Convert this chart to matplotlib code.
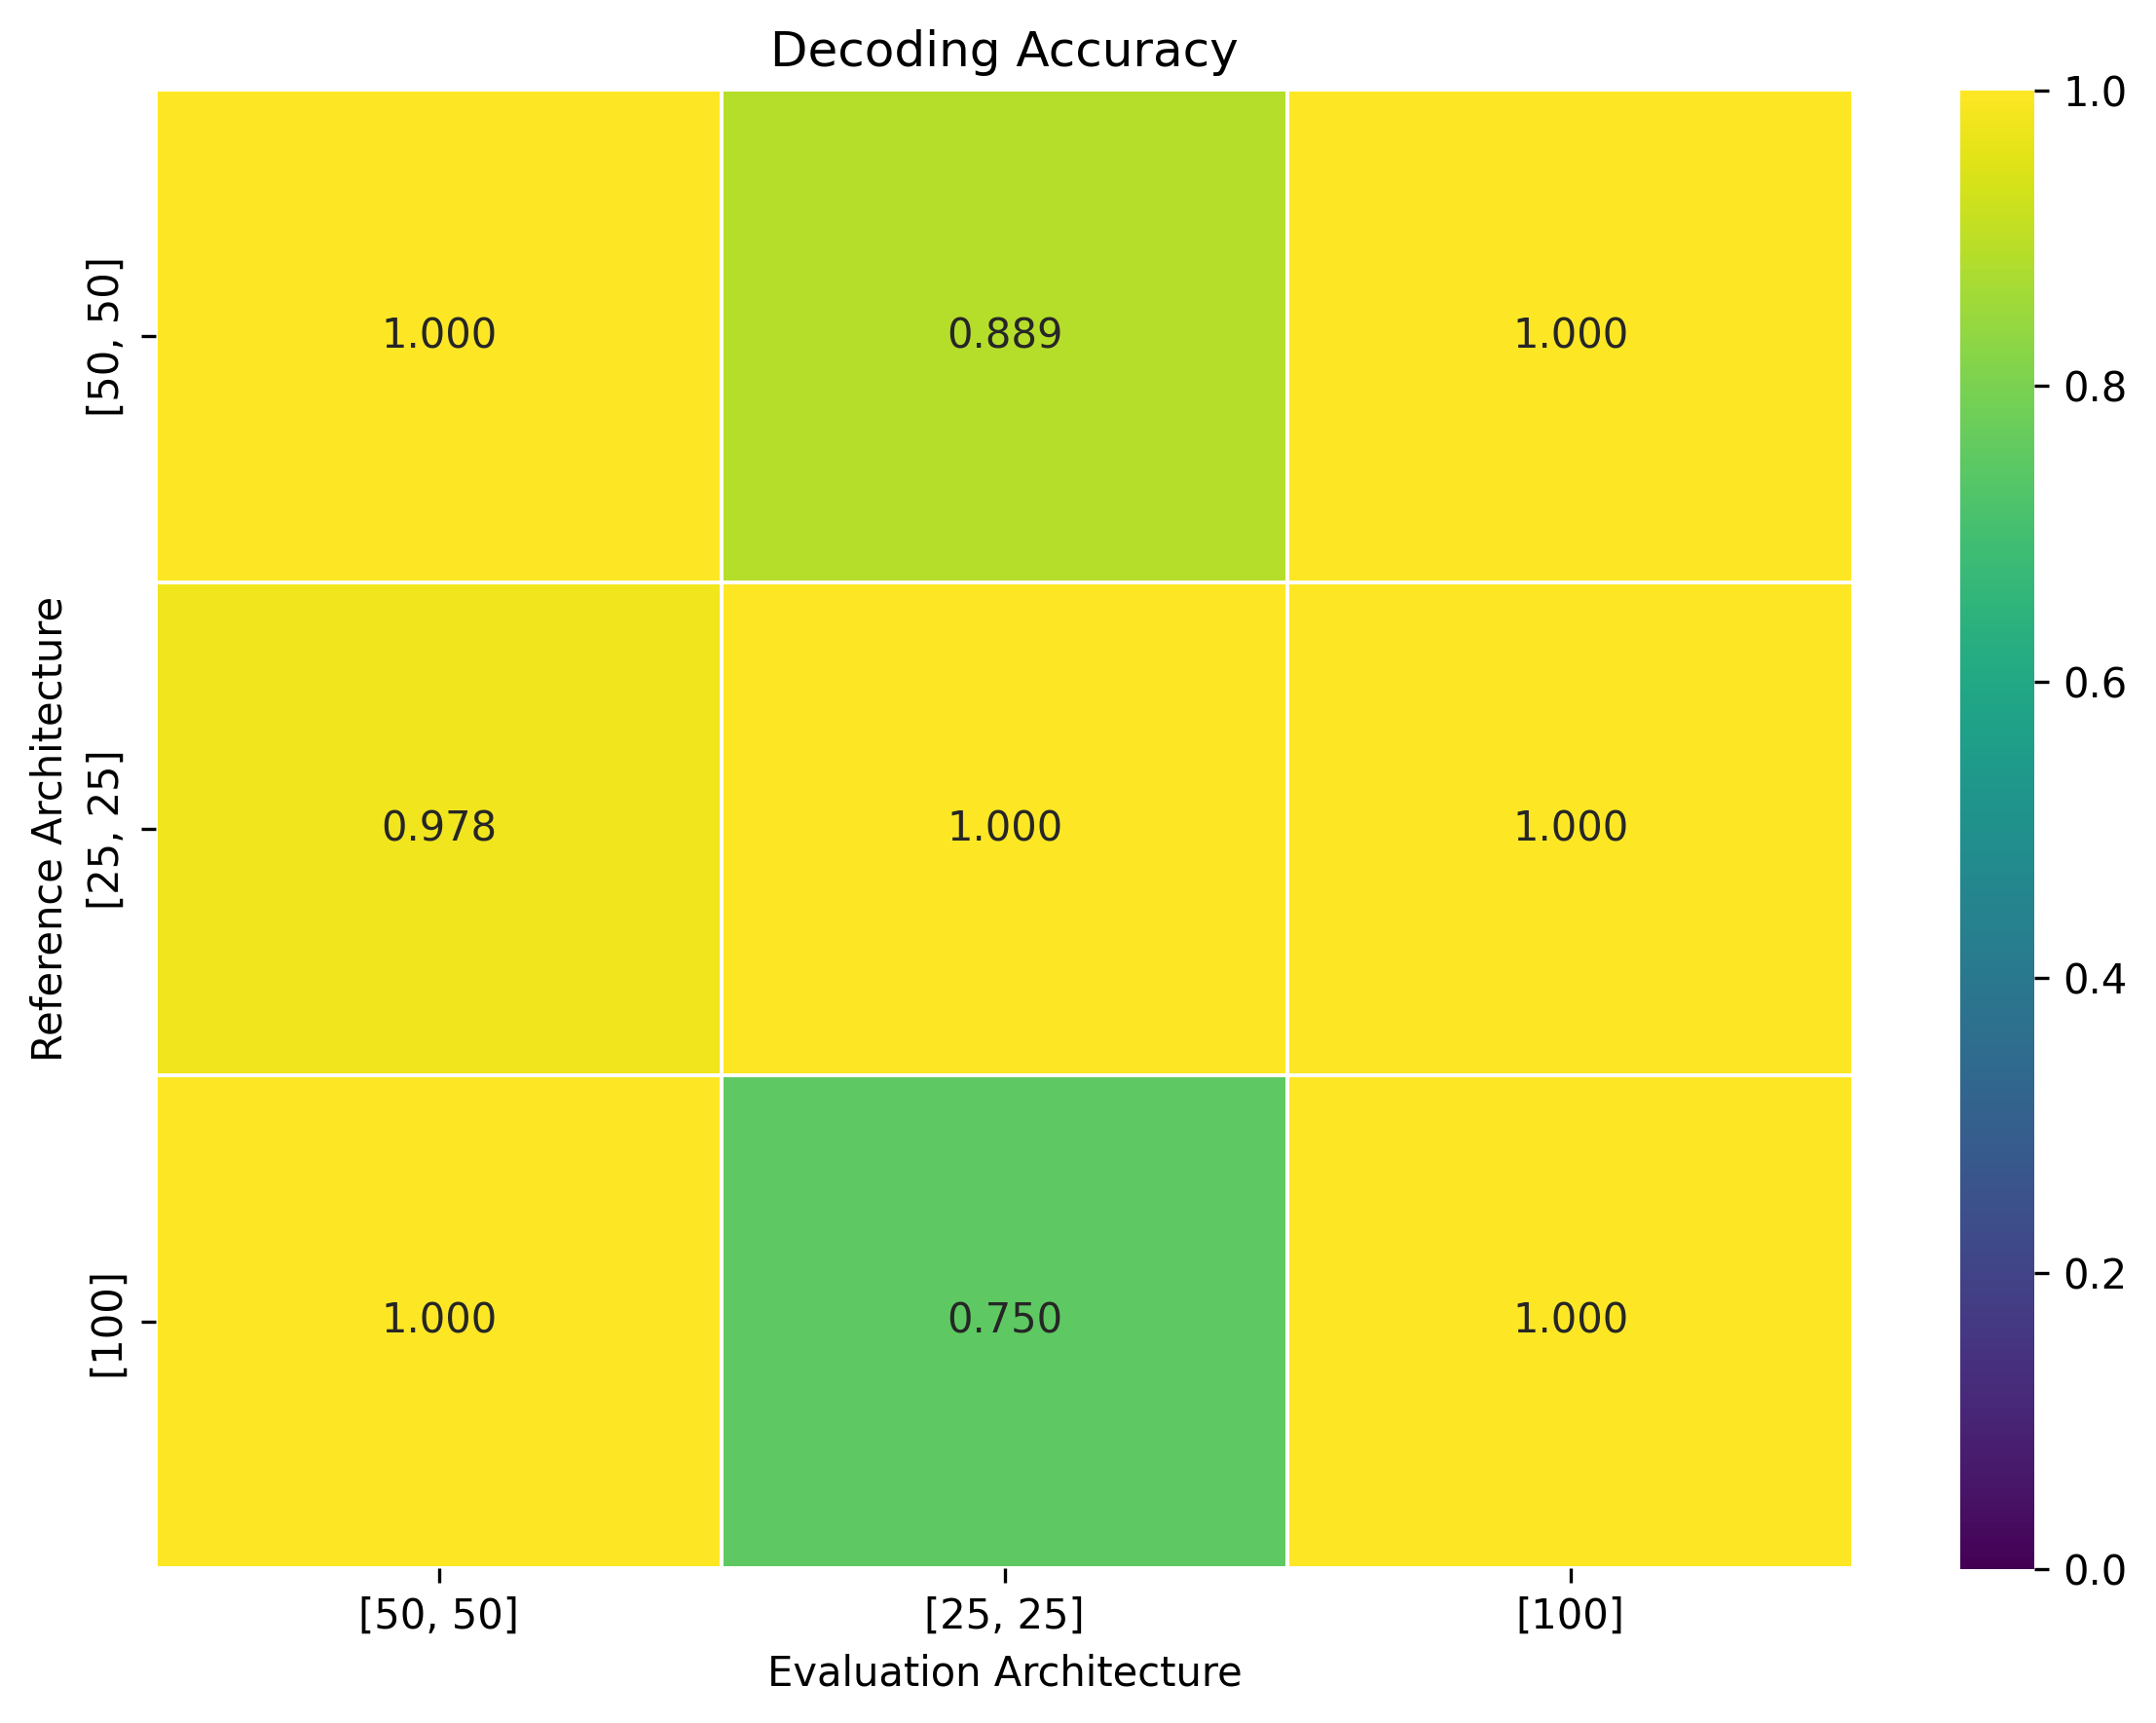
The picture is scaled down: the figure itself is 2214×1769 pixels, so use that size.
import numpy as np
import matplotlib
matplotlib.use('Agg')
import matplotlib.pyplot as plt
import seaborn as sns

archs = ['[50, 50]', '[25, 25]', '[100]']
accuracy = [[1.000, 0.889, 1.000],
            [0.978, 1.000, 1.000],
            [1.000, 0.750, 1.000]]

fig = plt.figure(figsize=(7.38, 5.897), dpi=300)
ax = fig.add_axes([0.0723, 0.090, 0.7873, 0.8577])
cax = fig.add_axes([0.909, 0.0895, 0.0345, 0.858])

sns.heatmap(np.array(accuracy), annot=True, fmt='.3f', cmap='viridis',
            vmin=0, vmax=1, linewidths=0.5, linecolor='white',
            xticklabels=archs, yticklabels=archs, ax=ax, cbar_ax=cax)
ax.set_title('Decoding Accuracy')
ax.set_xlabel('Evaluation Architecture')
ax.set_ylabel('Reference Architecture')
plt.setp(ax.get_yticklabels(), rotation=90, va='center')
plt.setp(ax.get_xticklabels(), rotation=0)

fig.savefig('out.png', dpi=300)
